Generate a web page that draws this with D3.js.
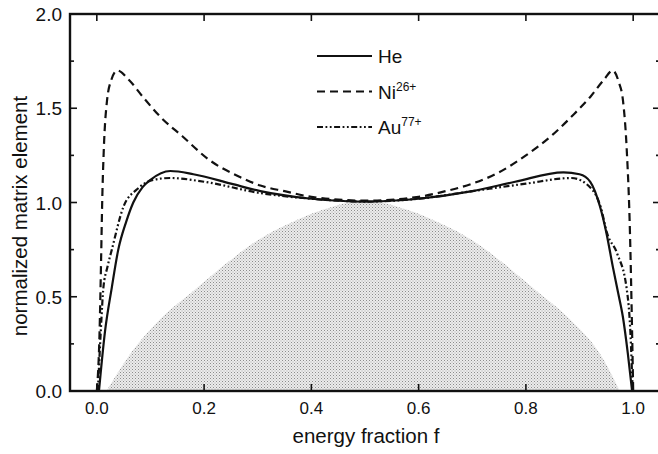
<!DOCTYPE html>
<html>
<head>
<meta charset="utf-8">
<title>normalized matrix element</title>
<script src="https://d3js.org/d3.v7.min.js"></script>
<style>
body{margin:0;background:#fff;}
text{font-family:"Liberation Sans",Arial,sans-serif;fill:#111;}
</style>
</head>
<body>
<script>
// values, f vs normalized matrix element
var heF  = [0.004,0.015,0.028,0.04,0.055,0.068,0.085,0.1,0.137,0.18,0.25,0.305,0.4,0.5,0.6,0.7,0.78,0.87,0.9,0.92,0.938,0.95,0.962,0.972,0.981,0.99,0.998];
var heV  = [0,0.31,0.55,0.75,0.9,1.0,1.08,1.12,1.167,1.15,1.1,1.06,1.02,1.005,1.02,1.06,1.11,1.16,1.15,1.11,0.98,0.84,0.66,0.52,0.39,0.2,0];

var niF  = [0.0,0.005,0.008,0.01,0.013,0.019,0.027,0.038,0.06,0.086,0.12,0.16,0.21,0.267,0.305,0.35,0.4,0.5,0.6,0.65,0.7,0.75,0.8,0.85,0.89,0.92,0.945,0.962,0.973,0.981,0.988,0.994,0.998,1.0];
var niV  = [0,0.3,0.7,1.0,1.28,1.54,1.65,1.7,1.65,1.56,1.45,1.35,1.225,1.135,1.09,1.06,1.03,1.01,1.03,1.06,1.1,1.16,1.25,1.36,1.47,1.56,1.65,1.7,1.64,1.54,1.28,0.84,0.31,0];

var auF  = [0.002,0.008,0.012,0.02,0.028,0.05,0.075,0.105,0.137,0.2,0.305,0.4,0.5,0.6,0.7,0.8,0.885,0.92,0.94,0.951,0.97,0.988,0.995,0.999];
var auV  = [0,0.35,0.54,0.66,0.75,0.98,1.07,1.12,1.13,1.11,1.05,1.02,1.005,1.02,1.06,1.1,1.13,1.08,0.97,0.84,0.73,0.54,0.3,0];

var shadeF = [0.018,0.056,0.118,0.18,0.243,0.3,0.36,0.42,0.48,0.52,0.58,0.64,0.7,0.757,0.82,0.882,0.944,0.975];
var shadeV = [0,0.17,0.38,0.53,0.68,0.8,0.89,0.96,1.0,1.0,0.96,0.89,0.8,0.68,0.53,0.38,0.17,0];

var xTicks = [0,0.2,0.4,0.6,0.8,1.0];
var yTicks = [0,0.5,1.0,1.5,2.0];
var yMinor = [0.25,0.75,1.25,1.75];

var W = 658, H = 454;
var padL = 70, padR = 660, padT = 14, padB = 391;

var svg = d3.select('body').append('svg').attr('width',W).attr('height',H);

var x = d3.scaleLinear().domain([-0.05,1.05]).range([padL,padR]);
var y = d3.scaleLinear().domain([0,2]).range([padB,padT]);

// dotted halftone fill
var pat = svg.append('defs').append('pattern').attr('id','dots')
  .attr('width',3).attr('height',3).attr('patternUnits','userSpaceOnUse');
pat.append('rect').attr('width',3).attr('height',3).attr('fill','#ececec');
pat.append('rect').attr('x',0).attr('y',0).attr('width',1).attr('height',1).attr('fill','#8c8c8c');
pat.append('rect').attr('x',1.5).attr('y',1.5).attr('width',1).attr('height',1).attr('fill','#a8a8a8');

var area = d3.area().x(function(d){return x(d[0]);}).y0(y(0)).y1(function(d){return y(d[1]);})
  .curve(d3.curveMonotoneX);
svg.append('path').datum(d3.zip(shadeF,shadeV)).attr('d',area).attr('fill','url(#dots)');

var line = d3.line().x(function(d){return x(d[0]);}).y(function(d){return y(d[1]);})
  .curve(d3.curveMonotoneX);

var series = [
  {name:'He', sup:'', f:heF, v:heV, dash:null},
  {name:'Ni', sup:'26+', f:niF, v:niV, dash:'8,5'},
  {name:'Au', sup:'77+', f:auF, v:auV, dash:'6,2.5,1.8,2.5,1.8,2.5'}
];

series.forEach(function(s){
  svg.append('path').datum(d3.zip(s.f,s.v)).attr('d',line)
    .attr('fill','none').attr('stroke','#111').attr('stroke-width',2.2)
    .attr('stroke-dasharray',s.dash);
});

// frame
svg.append('rect').attr('x',padL).attr('y',padT).attr('width',padR-padL).attr('height',padB-padT)
  .attr('fill','none').attr('stroke','#111').attr('stroke-width',2.4);

// ticks pointing inward
var g = svg.append('g').attr('stroke','#111').attr('stroke-width',1.6);
xTicks.forEach(function(t){
  g.append('line').attr('x1',x(t)).attr('x2',x(t)).attr('y1',padB).attr('y2',padB-7);
  g.append('line').attr('x1',x(t)).attr('x2',x(t)).attr('y1',padT).attr('y2',padT+7);
});
yTicks.forEach(function(t){
  g.append('line').attr('x1',padL).attr('x2',padL+7).attr('y1',y(t)).attr('y2',y(t));
  g.append('line').attr('x1',padR).attr('x2',padR-7).attr('y1',y(t)).attr('y2',y(t));
});
yMinor.forEach(function(t){
  g.append('line').attr('x1',padL).attr('x2',padL+4).attr('y1',y(t)).attr('y2',y(t));
  g.append('line').attr('x1',padR).attr('x2',padR-4).attr('y1',y(t)).attr('y2',y(t));
});

// tick labels
svg.selectAll('text.xl').data(xTicks).enter().append('text').attr('class','xl')
  .attr('x',function(d){return x(d);}).attr('y',414).attr('text-anchor','middle')
  .attr('font-size',17).text(function(d){return d.toFixed(1);});
svg.selectAll('text.yl').data(yTicks).enter().append('text').attr('class','yl')
  .attr('x',62).attr('y',function(d){return y(d)+7;}).attr('text-anchor','end')
  .attr('font-size',19).text(function(d){return d.toFixed(1);});

// axis titles
svg.append('text').attr('x',366).attr('y',443).attr('text-anchor','middle')
  .attr('font-size',20.5).text('energy fraction f');
svg.append('text').attr('transform','translate(27,216) rotate(-90)').attr('text-anchor','middle')
  .attr('font-size',20.5).text('normalized matrix element');

// legend
var leg = svg.append('g');
series.forEach(function(s,i){
  var ly = 56 + i*35.5;
  leg.append('line').attr('x1',317).attr('x2',372).attr('y1',ly).attr('y2',ly)
    .attr('stroke','#111').attr('stroke-width',2).attr('stroke-dasharray',s.dash);
  var t = leg.append('text').attr('x',378).attr('y',ly+7).attr('font-size',19).text(s.name);
  if(s.sup) t.append('tspan').attr('dy',-8).attr('font-size',12).text(s.sup);
});
</script>
</body>
</html>
